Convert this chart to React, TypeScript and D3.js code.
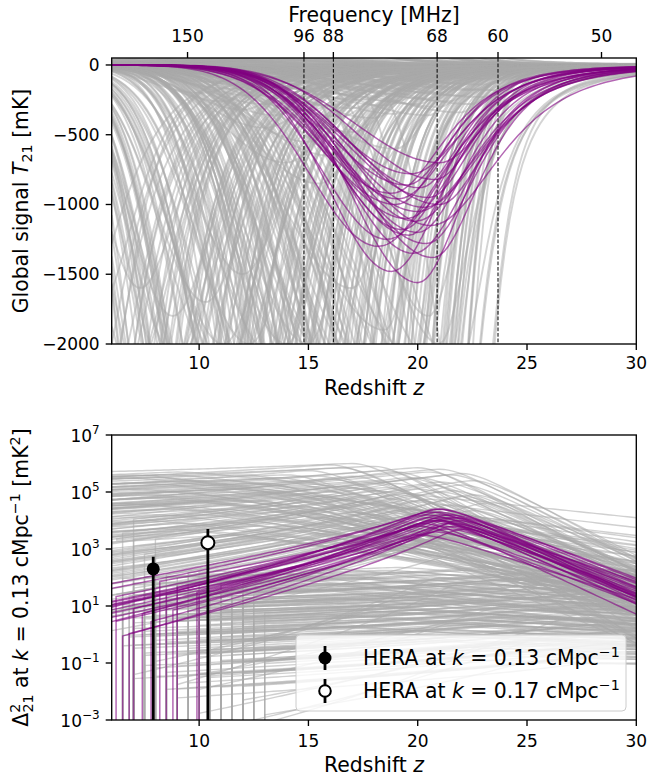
import React from 'react';
import * as d3 from 'd3';

// ---------------- data ----------------
const zDomain = [6, 30];
const tempDomain = [-2000, 50];
const powDomain = [1e-3, 1e7];
const zTicks = [10, 15, 20, 25, 30];
const tempTicks = [0, -500, -1000, -1500, -2000];
const freqTicks = [150, 96, 88, 68, 60, 50];
const freqMarked = [96, 88, 68, 60];
const powExponents = [-3, -1, 1, 3, 5, 7];
const NU21 = 1420.4; // top axis mapping used by the chart: z = NU21 / f

// Global-signal troughs: [z of minimum, depth mK (negative = emission), left width, right width]
const purpleGlobal = [
  [19.0,1000,4.8,4.2],[19.5,1100,5.0,4.6],[20.0,1200,4.6,4.2],[20.5,950,5.2,3.8],[19.8,1350,4.4,4.8],
  [20.0,1560,4.2,4.0],[18.8,1480,4.0,4.5],[18.6,1250,4.2,5.0],[20.8,820,5.0,3.6],[21.0,700,5.4,4.0],
  [19.5,860,4.9,3.9],[20.0,1050,5.1,5.2],[18.8,920,4.6,4.4],[20.6,1150,4.9,5.6],[19.3,1180,4.3,4.1],
  [20.4,1280,5.0,4.3],[19.7,780,4.8,4.5],[21.0,1000,5.3,4.0],[18.2,1300,4.4,5.4],[20.1,880,4.7,3.6],
  [19.9,1120,4.5,4.9],[20.7,1380,4.8,4.0],[19.1,960,4.4,4.6],[20.3,1020,5.0,5.0],[19.6,1220,4.6,3.8],
];
const grayEmissionWeak = [
  [7,-20,4,5],[7.5,-45,5,5],[8,-30,4,4.5],[8.5,-70,5,5],[9,-15,5,6],[9.5,-40,6,5],[10,-60,5,4.5],
  [10.5,-25,6,5],[11,-90,5,5],[11.5,-35,6,4.5],[12,-50,6,5],[12.5,-20,7,5],[13,-75,6,4.5],[13.5,-40,7,4.2],
  [14,-110,6,4.5],[14.5,-30,7,4.4],[15,-60,7,4.2],[15.5,-150,6,4],[16,-45,7,4],[16.5,-90,7,3.8],
  [17,-25,8,4],[17.5,-130,7,3.6],[18,-55,8,3.6],[18.5,-200,7,3.2],[19,-80,8,3.2],[19.5,-35,8,3.2],
  [20,-120,8,2.8],[20.5,-60,8,2.8],[21,-180,8,2.5],[21.5,-90,8,2.4],
];
const grayEmission = [
  [6,-300,3,6],[7,-600,2.5,5],[8,-150,3,4.5],[9,-400,3,5],[10,-250,4,4.5],[10,-1500,3,4.5],[11,-800,3.5,4.5],
  [12,-120,5,5],[12.5,-500,4,4.5],[13,-300,4,5],[13.5,-150,6,5],[14,-900,4,4],[14.5,-200,5,4.5],[15,-600,5,4],
  [16,-400,5,4.5],[16.5,-1000,4.5,4],[17,-250,5,4.2],[18,-700,5,3.6],[19,-300,5,3.2],[11,-2000,3,5],
];
const grayShallow = [
  [10,60,3.5,3.8],[10,200,3.2,3.6],[10.5,120,3.5,3.8],[10.5,30,4,4],[11,90,3.6,3.6],[11,260,3.4,3.4],
  [11.5,40,4,3.8],[11.5,170,3.8,3.5],[12,140,4,3.5],[12,320,3.6,3.2],[12,20,4.5,4],[12.5,75,4,3.6],
  [12.5,220,4,3.3],[13,110,4.2,3.4],[13,280,4,3.2],[13,35,4.5,3.6],[13.5,160,4.4,3.3],[13.5,360,4,3],
  [14,50,4.6,3.4],[14,200,4.4,3.2],[14,130,4.2,3.5],[14.5,90,4.6,3.2],[14.5,250,4.4,3.0],[14.5,25,5,3.4],
  [15,170,4.8,3.1],[15,330,4.5,2.9],[15,65,5,3.3],[15.5,120,4.8,3.0],[15.5,230,4.6,2.9],[15.5,40,5,3.2],
  [16,190,5,2.9],[16,75,5,3.1],[16,290,4.6,2.8],[16,15,5,3],[16.5,140,5,2.8],[16.5,370,4.8,2.7],
  [16.5,55,5.2,3],[17,210,5,2.8],[17,100,5.2,2.9],[17,310,4.8,2.6],[17,35,5.4,3],[17.5,160,5.2,2.7],
  [17.5,250,5,2.6],[17.5,70,5.4,2.8],[18,120,5.2,2.7],[18,230,5,2.6],[18,380,4.8,2.5],[18,50,5.4,2.8],
  [18.5,190,5.4,2.6],[18.5,290,5,2.5],[18.5,85,5.4,2.7],[18.5,20,5.6,2.8],[19,150,5.4,2.5],[19,260,5.2,2.4],
  [19,40,5.6,2.6],[19,350,5,2.3],[19.5,110,5.6,2.4],[19.5,210,5.4,2.4],[19.5,60,5.6,2.5],[20,170,5.6,2.3],
  [20,280,5.4,2.2],[20,90,5.8,2.4],[20,25,6,2.4],[20.5,140,5.8,2.2],[20.5,240,5.6,2.1],[20.5,360,5.4,2.0],
  [20.5,55,6,2.3],[21,200,5.8,2.1],[21,110,6,2.1],[21,300,5.6,2.0],[21,35,6,2.2],[21.5,160,6,2.0],
  [21.5,260,5.8,1.9],[21.5,75,6,2.0],[22,130,6,1.9],[22,220,5.8,1.8],[22,45,6,1.9],[22,340,5.6,1.7],
  [22.5,180,6,1.7],[22.5,90,6,1.8],[22.5,280,5.8,1.6],[23,140,6,1.6],[23,60,6,1.7],[23,230,5.8,1.5],
  [23.5,100,6,1.5],[23.5,180,6,1.4],[23.5,40,6,1.5],
];
const grayMid = [
  [9,2600,2.5,3],[9.5,2400,3,3.2],[10,3000,3,3.5],[10.5,2800,3.2,3],[11,2200,3.5,3.5],[11.5,2300,3.5,3.2],
  [12,2800,3.6,3.4],[12.5,3200,3.8,3],[13,450,4,3.5],[13,2500,3.5,3.2],[13.5,2100,4,3],[14,700,4.2,3.2],
  [14.5,3000,4,2.8],[15,550,4.5,3],[15,2600,4.2,2.8],[15.5,850,4.5,3],[16,2900,4.4,2.6],[16,650,4.8,2.8],
  [16.5,2200,4.5,2.6],[17,480,5,2.8],[17,1600,4.6,2.5],[17.5,3100,4.5,2.4],[18,750,5,2.5],[18,2400,4.8,2.4],
  [18.5,1900,5,2.3],[19,600,5.2,2.4],[19,2700,4.8,2.2],[8,3300,2.2,3.2],[8.5,2500,2.4,3],[12,1500,3.2,3.2],
];
const grayEarlyDeep = [
  [5,3000,2,3],[5.5,6000,2,3.2],[6,2500,2,3.5],[6,8000,2,3],[6.5,4000,2.2,3.3],[7,2200,2.5,3.6],
  [7,6500,2.3,3.2],[7.5,3500,2.5,3.4],[8,2600,2.8,3.6],[8,7000,2.6,3.1],[8.5,4500,2.8,3.3],[9,2100,3,3.8],
  [9,5500,3,3.2],[9.5,3200,3,3.5],[10,7500,3.2,3],[10,2400,3.4,3.8],[10.5,4200,3.2,3.4],[11,3000,3.5,3.6],
  [11,6000,3.4,3.1],[11.5,2200,3.6,3.8],[12,5000,3.8,3.2],[12,3600,3.6,3.5],[12.5,2500,3.8,3.6],[13,6500,4,3],
  [13,4000,3.8,3.3],[13.5,2800,4,3.5],[14,5500,4,3],[4,2000,2,4],[4.5,4500,2,3.6],[3.5,7000,2,3.8],
  [5.2,1800,2,3.4],[6.2,3500,2,3.8],[6.8,5000,2.2,2.8],[7.3,1600,2.4,3.4],[7.8,9000,2.5,3],[8.3,3000,2.6,4],
  [8.8,1800,2.8,3.6],[9.3,8000,3,2.9],[9.8,4500,3,3.2],[10.3,1700,3.2,3.6],[10.8,5200,3.3,3.1],
  [11.3,3800,3.4,3.4],[11.8,7000,3.6,3],[12.3,2000,3.6,3.6],[12.8,4800,3.8,3.1],
  [4.2,3000,2,3.8],[4.8,5500,2,3.5],[5.4,2600,2.1,3.6],[5.8,4200,2.2,3.2],[6.3,7000,2.2,3.0],[6.7,2300,2.3,3.7],
  [7.2,4800,2.4,3.3],[7.6,3000,2.5,3.6],[8.1,6000,2.6,3.0],[8.6,2200,2.8,3.8],[9.1,3800,2.9,3.4],[9.6,6800,3,3.0],
  [10.1,2900,3.1,3.6],[10.6,8500,3.2,2.9],[11.1,2000,3.4,3.8],[11.6,4600,3.5,3.2],[12.1,2700,3.6,3.5],
  [12.6,6200,3.8,3.0],[13.1,3300,3.9,3.3],[13.6,5000,4,3.0],[14.1,2400,4,3.3],[7.9,4000,2.5,3.5],
  [9.9,3600,3,3.3],[11.9,5400,3.6,3.1],[5.1,8000,2,3.3],[6.9,3200,2.3,3.5],[8.9,7500,2.8,3.1],
  [10.9,3400,3.3,3.5],[12.9,2300,3.8,3.6],[3.8,4000,2,4],
];
const grayMidDeep = [
  [14.5,2500,3.5,2.8],[15,4000,3.8,2.6],[15.5,3000,4,2.7],[16,5000,4,2.4],[16,2200,4.2,2.8],[16.5,3500,4.2,2.5],
  [17,6000,4.4,2.2],[17,2600,4.5,2.6],[17.5,4200,4.5,2.3],[18,3000,4.6,2.4],[18,5500,4.4,2.1],[18.5,2300,4.8,2.3],
  [19,3800,4.8,2.1],[19,6000,4.6,2.0],[19.5,2800,5,2.1],[20,4500,5,1.9],[20,2100,5,2.0],[20.5,3500,5,1.8],
  [21,5000,5,1.7],[21,2500,5.2,1.8],[21.5,4000,5,1.6],[15,2000,4,2.8],[14,3500,3.5,2.7],[14.8,6000,3.8,2.5],
  [15.3,2400,4,2.8],[15.8,4400,4,2.5],[16.3,7000,4.2,2.2],[16.8,2900,4.4,2.6],[17.3,5200,4.4,2.3],
  [17.8,2200,4.6,2.4],[18.3,4000,4.6,2.2],[18.8,7000,4.6,2.0],[19.3,2600,4.8,2.2],[19.8,5200,4.8,1.9],
  [20.3,3000,5,1.9],[20.8,6500,5,1.7],[21.3,2200,5,1.8],[13.5,3000,3.5,2.8],[14,2000,3.6,3],[16,3800,4.2,2.5],
  [14.2,4500,3.6,2.7],[14.7,2200,3.7,2.9],[15.2,5500,3.8,2.5],[15.7,3300,4,2.6],[16.2,2600,4.1,2.7],
  [16.7,6000,4.2,2.3],[17.2,3600,4.3,2.4],[17.7,2400,4.5,2.5],[18.2,6500,4.5,2.1],[18.7,3300,4.6,2.2],
  [19.2,4700,4.7,2.0],[19.7,2300,4.8,2.1],[20.2,5800,4.9,1.8],[20.7,2700,5,1.9],[21.2,4200,5,1.7],
  [14.4,3000,3.6,2.8],[15.4,7000,3.9,2.3],[16.4,4200,4.1,2.5],[17.4,7500,4.3,2.1],[18.4,2800,4.6,2.3],
  [19.4,6800,4.7,1.9],[20.4,4000,4.9,1.8],[15.9,2100,4,2.8],[17.9,5000,4.5,2.2],[19.9,3500,4.8,2.0],
  [13.8,5000,3.5,2.8],[16.9,2300,4.3,2.6],[18.9,4200,4.6,2.1],[20.9,3200,5,1.8],[21.4,2600,5,1.7],
];
const grayLateDeep = [
  [20,2500,3,1.6],[20.5,4000,3,1.5],[21,3000,3.2,1.5],[21.3,5000,3,1.4],[21.7,3500,2.8,1.5],
  [21.8,2200,3.5,1.8],[22.2,4500,2.6,1.3],[21,2000,3.5,1.9],[22.6,3000,2.5,1.3],[20.5,1800,3.2,2.0],
];
// high-z tail exponent of each family
const tailPurple = 2, tailEmission = 2, tailShallow = 2, tailMid = 1.6, tailEarly = 2, tailMidDeep = 2, tailLate = 1.15;

// Power-spectrum humps (log10 mK^2): [z of peak, log10 peak, left slope, right slope, z where the signal vanishes]
const purplePower = [
  [21,4.2,0.40,0.32,6.2],[21,4.0,0.45,0.30,7.0],[20.5,4.3,0.38,0.34,5],[21.5,3.9,0.48,0.28,8.8],
  [21,4.1,0.42,0.36,5],[20,3.8,0.44,0.30,9.9],[21,4.4,0.36,0.38,5],[22,3.7,0.50,0.26,6.8],
  [20.8,4.0,0.40,0.31,5],[21.2,3.9,0.52,0.33,7.8],[20.3,4.2,0.46,0.29,5],[21.5,4.1,0.34,0.35,8.2],
  [20.7,3.6,0.42,0.27,5],[21.8,4.0,0.55,0.32,6.5],[20.9,4.3,0.44,0.37,9.0],[21.1,3.8,0.38,0.30,5],
  [20.6,4.0,0.50,0.34,7.4],[21.4,4.2,0.41,0.29,5],[20.2,3.9,0.47,0.36,10.0],[21.7,4.1,0.43,0.31,5],
  [20.0,3.5,0.40,0.25,5],[21.3,3.7,0.36,0.28,8.5],[20.4,4.1,0.52,0.35,5],[21.6,3.8,0.45,0.33,6.0],
  [20.8,4.4,0.48,0.30,5],
];
const grayPowerHigh = [
  [17,6.0,.05,.40,5],[16,5.95,.08,.35,5],[18,5.9,.06,.45,5],[20,5.85,.1,.42,5],[21,5.8,.12,.4,5],
  [15,5.75,.1,.3,5],[19,5.7,.15,.38,5],[22,5.65,.15,.42,5],[14,5.6,.05,.28,5],[17,5.55,.12,.34,5],
  [20,5.5,.2,.36,5],[16,5.45,.14,.3,5],[18,5.4,.08,.5,5],[21,5.35,.18,.33,5],[13,5.3,.06,.26,5],
  [19,5.3,.22,.4,5],[22,5.25,.25,.38,5],[15,5.2,.1,.32,5],[17,5.15,.16,.44,5],[20,5.1,.28,.3,5],
  [12,5.1,.04,.22,5],[18,5.05,.2,.36,5],[21,5.0,.3,.34,5],[14,4.95,.12,.28,5],[16,4.9,.18,.4,7],
  [19,4.9,.26,.32,5],[22,4.85,.32,.36,5],[13,4.8,.1,.24,5],[17,4.75,.22,.3,6.5],[20,4.7,.3,.28,5],
  [15,4.65,.16,.34,5],[18,4.6,.24,.26,8],[23,4.6,.35,.4,5],[12,4.55,.08,.2,5],[16,4.5,.2,.28,5],
  [19,4.45,.28,.24,7.5],[21,4.4,.32,.3,5],[14,4.35,.15,.22,5],[17,4.3,.24,.26,5],[20,4.25,.3,.22,5],
  [22,4.2,.34,.28,5],[15,4.15,.18,.24,6],[18,4.1,.26,.2,5],[13,4.05,.12,.18,5],[21,4.0,.36,.26,9],
  [16,3.95,.22,.22,5],[19,3.9,.3,.2,5],[23,3.85,.38,.3,5],[14,3.8,.18,.16,7],[17,3.75,.26,.2,5],
  [20,3.7,.34,.2,5],[15,3.65,.22,.18,5],[18,3.6,.3,.18,8.5],[22,3.55,.38,.24,5],[16,3.5,.26,.16,5],
  [19,3.45,.32,.16,6],[21,3.4,.36,.2,5],[13,3.35,.2,.12,5],[17,3.3,.3,.14,9],[20,3.2,.36,.16,5],
  [9,5.7,.05,.08,5],[8,5.5,.05,.1,5],[10,5.3,.05,.12,5],[7,5.1,.05,.09,5],[11,5.4,.04,.14,5],
  [10,4.8,.08,.1,5],[9,4.5,.06,.12,5],[8,4.2,.05,.1,5],[11,4.9,.06,.16,5],[12,5.6,.04,.18,5],
  [7,5.6,.04,.12,5],[9,5.0,.05,.14,5],[10,4.2,.05,.12,5],[8,4.8,.04,.11,5],[11,4.4,.06,.14,5],
  [16.5,5.85,.07,.38,5],[18.5,5.75,.09,.44,5],[20.5,5.7,.12,.41,5],[21.5,5.6,.14,.39,5],[15.5,5.55,.09,.31,5],
  [19.5,5.5,.16,.37,5],[22.5,5.4,.18,.4,5],[14.5,5.4,.07,.27,5],[17.5,5.35,.13,.33,5],[20.5,5.25,.22,.35,5],
  [16.5,5.2,.15,.31,5],[18.5,5.15,.1,.47,5],[21.5,5.05,.2,.32,5],[13.5,5.0,.07,.25,5],[19.5,4.95,.23,.39,5],
  [22.5,4.9,.27,.37,5],[15.5,4.85,.11,.31,5],[17.5,4.8,.17,.42,5],[20.5,4.75,.29,.29,5],[12.5,4.7,.05,.21,5],
  [18.5,4.65,.21,.35,6],[21.5,4.55,.31,.33,5],[14.5,4.5,.13,.27,5],[16.5,4.45,.19,.38,5],[19.5,4.4,.27,.31,8],
  [22.5,4.35,.33,.35,5],[13.5,4.3,.11,.23,5],[17.5,4.25,.23,.29,5],[20.5,4.2,.31,.27,5],[15.5,4.1,.17,.33,7],
  [18.5,4.05,.25,.25,5],[23.5,4.0,.36,.38,5],[12.5,3.95,.09,.19,5],[16.5,3.9,.21,.27,5],[19.5,3.85,.29,.23,5],
  [21.5,3.8,.33,.29,6.5],[14.5,3.75,.16,.21,5],[17.5,3.7,.25,.25,5],[20.5,3.65,.32,.21,5],[22.5,3.6,.35,.27,5],
  [15.5,3.55,.2,.19,5],[18.5,3.5,.28,.19,9.5],[13.5,3.45,.14,.15,5],[21.5,3.4,.35,.25,5],[16.5,3.35,.24,.17,5],
  [19.5,3.3,.31,.17,5],[23.5,3.25,.38,.28,5],[14.5,3.2,.19,.14,5],[17.5,3.15,.28,.16,7],[20.5,3.1,.35,.18,5],
  [8.5,5.6,.05,.09,5],[9.5,5.4,.05,.11,5],[7.5,5.3,.04,.1,5],[10.5,5.15,.05,.13,5],[11.5,5.0,.05,.15,5],
  [6.5,5.5,.04,.09,5],[9.5,4.7,.06,.11,5],[8.5,4.4,.05,.1,5],[10.5,4.6,.06,.13,5],[12.5,5.3,.04,.17,5],
  [7.5,4.9,.05,.1,5],[11.5,4.7,.06,.15,5],[6.5,4.6,.05,.09,5],[13.5,5.5,.05,.2,5],[9.5,3.9,.06,.11,5],
  [8.5,3.7,.06,.1,5],[10.5,3.6,.07,.12,5],[12.5,3.8,.08,.15,5],[7.5,4.0,.05,.1,5],[11.5,3.5,.08,.13,5],
];
const grayPowerLow = [
  [24,2.4,.08,.05,8],[19,2.35,.05,.08,9.5],[27,2.3,.1,.02,7],[16,2.3,.03,.1,10],[22,2.25,.06,.07,11],
  [29,2.2,.12,0,8.5],[18,2.2,.04,.09,6.5],[25,2.15,.09,.04,12],[21,2.1,.05,.07,9],[14,2.1,.03,.11,7.5],
  [26,2.05,.1,.03,10.5],[20,2.0,.05,.08,8],[23,2.0,.07,.05,11.5],[28,1.95,.11,.01,9],[17,1.95,.04,.08,7],
  [24,1.9,.08,.04,12.5],[19,1.85,.05,.07,10],[30,1.85,.12,0,8],[22,1.8,.06,.06,6.8],[15,1.8,.03,.09,11],
  [26,1.75,.1,.03,9.5],[21,1.7,.05,.07,7.5],[27,1.7,.1,.02,12],[18,1.65,.04,.07,10.5],[25,1.6,.09,.04,8.5],
  [23,1.6,.07,.05,6.5],[29,1.55,.12,0,11],[16,1.55,.03,.08,9],[20,1.5,.05,.06,12],[24,1.45,.08,.04,7],
  [28,1.45,.11,.01,10],[22,1.4,.06,.06,8],[17,1.4,.04,.07,11.5],[26,1.35,.1,.03,9],[19,1.3,.05,.06,6.5],
  [25,1.3,.09,.03,13],[21,1.25,.06,.06,10],[30,1.2,.12,0,7.5],[23,1.2,.07,.05,11],[15,1.15,.03,.07,8.5],
  [27,1.1,.1,.02,12.5],[20,1.1,.05,.06,9.5],[24,1.05,.08,.04,7],[18,1.0,.04,.06,10],[28,1.0,.11,.01,8],
  [22,0.95,.07,.05,12],[26,0.9,.1,.02,9],[16,0.9,.04,.06,11],[25,0.85,.09,.03,7.5],[21,0.8,.06,.05,10.5],
  [29,0.8,.12,0,6.5],[19,0.75,.05,.05,8.5],[23,0.7,.08,.04,12],[27,0.7,.11,.02,10],[17,0.65,.04,.05,9],
  [24,0.6,.09,.03,11],[20,0.6,.06,.05,7],[26,0.55,.1,.02,13],[22,0.5,.07,.04,8],[30,0.5,.13,0,10.5],
  [18,0.45,.05,.05,11.5],[25,0.4,.09,.03,9],[21,0.4,.07,.04,6.8],[28,0.35,.12,.01,12],[23,0.3,.08,.03,8.5],
  [16,0.3,.04,.05,10],[27,0.25,.11,.02,7.5],[20,0.2,.06,.04,11],[24,0.15,.09,.03,9.5],[29,0.1,.13,0,12.5],
  [22,0.1,.08,.04,7],[26,0.05,.11,.02,10],[19,0.0,.06,.04,8],[25,-0.05,.1,.02,11.5],[23,-0.1,.09,.03,9],
  [28,-0.15,.12,.01,13],[21,-0.2,.08,.03,10],[27,-0.3,.12,.01,8.5],[24,-0.35,.1,.02,12],[30,-0.4,.14,0,9.5],
  [22,-0.45,.09,.03,11],[26,-0.5,.12,.01,7],[25,-0.6,.11,.02,10],[29,-0.7,.14,0,12],[23,-0.75,.1,.02,8],
  [27,-0.85,.13,.01,11],[28,-1.0,.14,0,9],
  [24,1.0,.35,.03,9],[22,0.5,.4,.04,10],[26,0.0,.45,.02,8],[20,1.5,.45,.06,7],[23,-0.5,.5,.02,11],
  [21,2.0,.5,.07,12],[25,-1.0,.3,.01,13],[19,1.2,.38,.05,8],[27,0.6,.42,.02,10],[22,1.8,.55,.06,9],
  [24,-0.3,.33,.02,12],[18,0.8,.3,.04,11],
  [23.5,2.3,.07,.05,9],[18.5,2.25,.04,.08,7.5],[26.5,2.2,.1,.03,11],[15.5,2.15,.03,.1,8.5],[21.5,2.1,.06,.07,12],
  [28.5,2.05,.11,.01,7],[17.5,2.0,.04,.08,10],[24.5,1.95,.08,.04,9.5],[20.5,1.9,.05,.07,11.5],[27.5,1.85,.1,.02,8],
  [16.5,1.8,.03,.08,12],[22.5,1.75,.07,.05,7],[29.5,1.7,.12,0,10],[19.5,1.65,.05,.06,8.5],[25.5,1.6,.09,.03,11],
  [14.5,1.6,.03,.09,9],[23.5,1.55,.07,.05,12.5],[26.5,1.5,.1,.02,7.5],[18.5,1.45,.04,.06,10],[21.5,1.4,.06,.06,6.8],
  [28.5,1.35,.11,.01,11.5],[24.5,1.3,.08,.04,9],[16.5,1.25,.04,.07,12],[20.5,1.2,.05,.06,8],[27.5,1.15,.1,.02,10.5],
  [22.5,1.1,.07,.05,7],[25.5,1.05,.09,.03,12],[17.5,1.0,.04,.06,9.5],[29.5,0.95,.12,0,8],[23.5,0.9,.08,.04,11],
  [19.5,0.85,.05,.05,7.5],[26.5,0.8,.1,.02,10],[21.5,0.75,.06,.05,12.5],[15.5,0.7,.03,.06,9],[24.5,0.65,.09,.03,8],
  [28.5,0.6,.11,.01,11],[18.5,0.55,.05,.05,10],[22.5,0.5,.07,.04,6.5],[25.5,0.45,.1,.02,12],[20.5,0.4,.06,.05,9],
  [27.5,0.35,.11,.01,7.5],[23.5,0.3,.08,.03,10.5],[16.5,0.25,.04,.05,12],[26.5,0.2,.1,.02,8.5],[21.5,0.15,.07,.04,11],
  [29.5,0.1,.13,0,9],[24.5,0.05,.09,.02,12.5],[19.5,0.0,.06,.04,7],[22.5,-0.05,.08,.03,10],[27.5,-0.1,.12,.01,8],
  [25.5,-0.2,.1,.02,11],[20.5,-0.25,.07,.03,9.5],[28.5,-0.35,.13,.01,12],[23.5,-0.4,.09,.02,7.5],[26.5,-0.5,.11,.01,10],
  [21.5,-0.55,.08,.03,11.5],[29.5,-0.6,.14,0,8.5],[24.5,-0.7,.1,.02,12],[27.5,-0.8,.13,.01,9],[22.5,-0.9,.1,.02,10.5],
  [17.5,1.7,.04,.07,8],[19.5,2.2,.05,.09,11],[15.5,1.3,.03,.07,10],[16.5,2.0,.04,.09,7],[18.5,0.9,.04,.05,9],
  [14.5,1.9,.03,.1,12],[30,1.6,.12,0,9],[30,0.2,.13,0,11],[30,2.3,.11,0,7],[30,-0.2,.14,0,10],
];

// HERA limits
const heraZ = [7.9, 10.4];
const heraValue = [200, 1660];
const heraUpper = [540, 5000];
const heraLower = [1e-6, 1e-6];
const heraK = ['0.13', '0.17'];

// ---------------- layout ----------------
const W = 647, H = 776;
const X0 = 111.7, X1 = 636.3;
const TOP_Y0 = 58, TOP_Y1 = 344;
const BOT_Y0 = 435, BOT_Y1 = 720;
const FONT = 'DejaVu Sans, sans-serif';
const TICK_FS = 17;
const LABEL_FS = 20.4;
const GRAY = '#a9a9a9';
const PURPLE = '#800080';

const zGrid = d3.range(6, 30.0001, 0.2);

function globalCurve(p: number[], tail: number): [number, number][] {
  const [zc, A, wl, wr] = p;
  return zGrid.map((z) => {
    const d = z - zc;
    const f = d < 0 ? Math.exp(-((d / wl) ** 2)) : Math.pow(1 + (d / wr) ** 2, -tail);
    return [z, -A * f] as [number, number];
  });
}

function powerCurve(p: number[]): [number, number][] {
  const [zp, Lp, sl, sr, zend] = p;
  const L = (z: number) => {
    const d = z - zp;
    const ad = Math.sqrt(d * d + 1) - 1;
    return d < 0 ? Lp - sl * Math.pow(ad, 0.75) : Lp - sr * ad;
  };
  const pts: [number, number][] = [];
  if (zend > 6) {
    pts.push([zend, -8]);
    pts.push([zend, L(zend)]);
  }
  for (const z of zGrid) if (z > zend) pts.push([z, L(z)]);
  return pts;
}

export default function App() {
  const x = d3.scaleLinear().domain(zDomain).range([X0, X1]);
  const yT = d3.scaleLinear().domain(tempDomain).range([TOP_Y1, TOP_Y0]);
  const yP = d3.scaleLog().domain(powDomain).range([BOT_Y1, BOT_Y0]);
  const lineT = d3
    .line<[number, number]>()
    .x((d) => x(d[0]))
    .y((d) => yT(Math.min(Math.max(d[1], -20000), 2000)));
  const lineP = d3
    .line<[number, number]>()
    .x((d) => x(d[0]))
    .y((d) => yP(Math.pow(10, Math.max(d[1], -8))));

  const grayTopPaths: string[] = [];
  const fams: [number[][], number][] = [
    [grayEmissionWeak, tailEmission],
    [grayEmission, tailEmission],
    [grayShallow, tailShallow],
    [grayMid, tailMid],
    [grayEarlyDeep, tailEarly],
    [grayMidDeep, tailMidDeep],
    [grayLateDeep, tailLate],
  ];
  fams.forEach(([arr, tail]) => arr.forEach((p) => grayTopPaths.push(lineT(globalCurve(p, tail)) as string)));
  const purpleTopPaths = purpleGlobal.map((p) => lineT(globalCurve(p, tailPurple)) as string);
  const grayBotPaths = [...grayPowerHigh, ...grayPowerLow].map((p) => lineP(powerCurve(p)) as string);
  const purpleBotPaths = purplePower.map((p) => lineP(powerCurve(p)) as string);

  const fmtTemp = (v: number) => (v === 0 ? '0' : '\u2212' + Math.abs(v));
  const supFs = 12;

  return (
    <svg
      width={W}
      height={H}
      viewBox={`0 0 ${W} ${H}`}
      style={{ position: 'absolute', left: 0, top: 0, background: '#fff' }}
      fontFamily={FONT}
    >
      <defs>
        <clipPath id="clipTop">
          <rect x={X0} y={TOP_Y0} width={X1 - X0} height={TOP_Y1 - TOP_Y0} />
        </clipPath>
        <clipPath id="clipBot">
          <rect x={X0} y={BOT_Y0} width={X1 - X0} height={BOT_Y1 - BOT_Y0} />
        </clipPath>
      </defs>
      <rect x={0} y={0} width={W} height={H} fill="#fff" />

      {/* ---------- top panel ---------- */}
      <g clipPath="url(#clipTop)" fill="none">
        {grayTopPaths.map((d, i) => (
          <path key={i} d={d} stroke={GRAY} strokeOpacity={0.5} strokeWidth={1.9} />
        ))}
        {freqMarked.map((f) => (
          <line
            key={f}
            x1={x(NU21 / f)}
            x2={x(NU21 / f)}
            y1={TOP_Y0}
            y2={TOP_Y1}
            stroke="#000"
            strokeWidth={1}
            strokeDasharray="3.7,1.8"
          />
        ))}
        {purpleTopPaths.map((d, i) => (
          <path key={i} d={d} stroke={PURPLE} strokeOpacity={0.6} strokeWidth={1.5} />
        ))}
      </g>
      <rect x={X0} y={TOP_Y0} width={X1 - X0} height={TOP_Y1 - TOP_Y0} fill="none" stroke="#000" strokeWidth={1.35} />
      {zTicks.map((t) => (
        <g key={t}>
          <line x1={x(t)} x2={x(t)} y1={TOP_Y1} y2={TOP_Y1 + 6} stroke="#000" strokeWidth={1.35} />
          <text x={x(t)} y={TOP_Y1 + 25} fontSize={TICK_FS} textAnchor="middle">
            {t}
          </text>
        </g>
      ))}
      {tempTicks.map((t) => (
        <g key={t}>
          <line x1={X0 - 6} x2={X0} y1={yT(t)} y2={yT(t)} stroke="#000" strokeWidth={1.35} />
          <text x={X0 - 12} y={yT(t) + 6} fontSize={TICK_FS} textAnchor="end">
            {fmtTemp(t)}
          </text>
        </g>
      ))}
      {freqTicks.map((f) => (
        <g key={f}>
          <line x1={x(NU21 / f)} x2={x(NU21 / f)} y1={TOP_Y0 - 6} y2={TOP_Y0} stroke="#000" strokeWidth={1.35} />
          <text x={x(NU21 / f)} y={42} fontSize={TICK_FS} textAnchor="middle">
            {f}
          </text>
        </g>
      ))}
      <text x={(X0 + X1) / 2} y={21.5} fontSize={LABEL_FS} textAnchor="middle">
        Frequency [MHz]
      </text>
      <text x={(X0 + X1) / 2} y={395} fontSize={LABEL_FS} textAnchor="middle">
        Redshift <tspan fontStyle="italic">z</tspan>
      </text>
      <text transform={`translate(28, ${(TOP_Y0 + TOP_Y1) / 2}) rotate(-90)`} fontSize={LABEL_FS} textAnchor="middle">
        Global signal <tspan fontStyle="italic">T</tspan>
        <tspan fontSize={14.3} dy={4}>21</tspan>
        <tspan dy={-4}> [mK]</tspan>
      </text>

      {/* ---------- bottom panel ---------- */}
      <g clipPath="url(#clipBot)" fill="none">
        {grayBotPaths.map((d, i) => (
          <path key={i} d={d} stroke={GRAY} strokeOpacity={0.55} strokeWidth={1.4} />
        ))}
        {purpleBotPaths.map((d, i) => (
          <path key={i} d={d} stroke={PURPLE} strokeOpacity={0.6} strokeWidth={1.5} />
        ))}
        {heraZ.map((z, i) => (
          <g key={i}>
            <line
              x1={x(z)}
              x2={x(z)}
              y1={yP(heraUpper[i])}
              y2={yP(heraLower[i])}
              stroke="#000"
              strokeWidth={2.8}
            />
            <circle
              cx={x(z)}
              cy={yP(heraValue[i])}
              r={6.5}
              fill={i === 0 ? '#000' : '#fff'}
              stroke="#000"
              strokeWidth={i === 0 ? 0 : 2}
            />
          </g>
        ))}
      </g>
      <rect x={X0} y={BOT_Y0} width={X1 - X0} height={BOT_Y1 - BOT_Y0} fill="none" stroke="#000" strokeWidth={1.35} />
      {zTicks.map((t) => (
        <g key={t}>
          <line x1={x(t)} x2={x(t)} y1={BOT_Y1} y2={BOT_Y1 + 6} stroke="#000" strokeWidth={1.35} />
          <text x={x(t)} y={BOT_Y1 + 26.5} fontSize={TICK_FS} textAnchor="middle">
            {t}
          </text>
        </g>
      ))}
      {powExponents.map((e) => (
        <g key={e}>
          <line x1={X0 - 6} x2={X0} y1={yP(10 ** e)} y2={yP(10 ** e)} stroke="#000" strokeWidth={1.35} />
          <text x={X0 - 12} y={yP(10 ** e) + 7} fontSize={TICK_FS} textAnchor="end">
            10
            <tspan fontSize={supFs} dy={-8}>
              {e < 0 ? '\u2212' + Math.abs(e) : String(e)}
            </tspan>
          </text>
        </g>
      ))}
      <text x={(X0 + X1) / 2} y={BOT_Y1 + 52} fontSize={LABEL_FS} textAnchor="middle">
        Redshift <tspan fontStyle="italic">z</tspan>
      </text>
      <text transform={`translate(28, ${(BOT_Y0 + BOT_Y1) / 2}) rotate(-90)`} fontSize={LABEL_FS} textAnchor="middle">
        {'\u0394'}
        <tspan fontSize={14.3} dy={-8}>2</tspan>
        <tspan fontSize={14.3} dx={-9} dy={13}>21</tspan>
        <tspan dy={-5}> at </tspan>
        <tspan fontStyle="italic">k</tspan>
        <tspan> = 0.13 cMpc</tspan>
        <tspan fontSize={14.3} dy={-8}>{'\u22121'}</tspan>
        <tspan dy={8}> [mK</tspan>
        <tspan fontSize={14.3} dy={-8}>2</tspan>
        <tspan dy={8}>]</tspan>
      </text>

      {/* legend */}
      <rect x={296} y={635} width={330} height={76} rx={4} fill="#fff" fillOpacity={0.8} stroke="#cccccc" strokeWidth={1} />
      {heraK.map((k, i) => {
        const cy = 658 + i * 33;
        return (
          <g key={k}>
            <line x1={325} x2={325} y1={cy - 12} y2={cy + 12} stroke="#000" strokeWidth={2.8} />
            <circle cx={325} cy={cy} r={i === 0 ? 6.5 : 5.8} fill={i === 0 ? '#000' : '#fff'} stroke="#000" strokeWidth={i === 0 ? 0 : 2} />
            <text x={363} y={cy + 7} fontSize={LABEL_FS}>
              HERA at <tspan fontStyle="italic">k</tspan> = {k} cMpc
              <tspan fontSize={14.3} dy={-8}>{'\u22121'}</tspan>
            </text>
          </g>
        );
      })}
    </svg>
  );
}
